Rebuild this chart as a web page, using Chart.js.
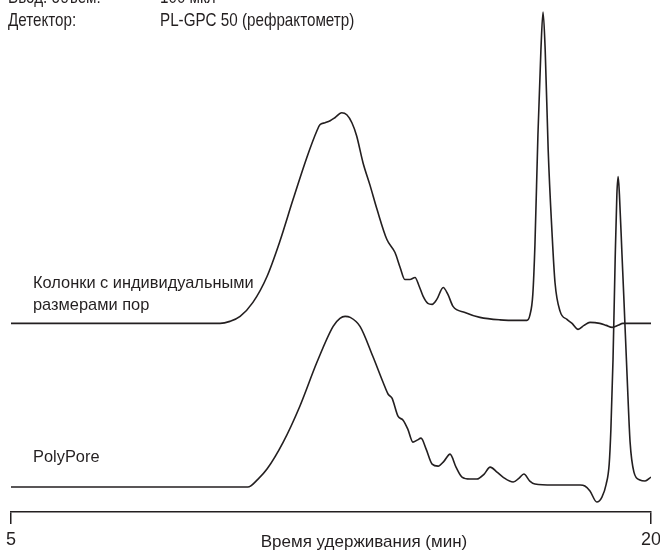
<!DOCTYPE html>
<html lang="ru">
<head>
<meta charset="utf-8">
<title>Время удерживания (мин)</title>
<script src="https://cdn.jsdelivr.net/npm/chart.js@4/dist/chart.umd.min.js"></script>
<style>
  html, body { margin: 0; padding: 0; background: #ffffff; }
  #wrap { position: relative; width: 660px; height: 550px; }
</style>
</head>
<body>
<div id="wrap"><canvas id="chart" width="660" height="550"></canvas></div>
<script>
// Retention time axis (min)
const xRange = [5, 20];
const xTickValues = [5, 20];
const xTitle = 'Время удерживания (мин)';

// Run conditions shown above the traces
const conditionNames = ['Ввод. объем:', 'Детектор:'];
const conditionValues = ['100 мкл', 'PL-GPC 50 (рефрактометр)'];

// Trace 1: columns with individual pore sizes (time, min / RI response above its own baseline)
const seriesNameA = ['Колонки с индивидуальными', 'размерами пор'];
const timeA = [5.00, 7.09, 9.90, 10.13, 10.37, 10.67, 11.00, 11.30, 11.61, 11.94, 12.17, 12.24,
  12.36, 12.48, 12.59, 12.75, 12.87, 12.99, 13.10, 13.25, 13.41, 13.58, 13.81, 14.00, 14.12,
  14.23, 14.35, 14.47, 14.56, 14.66, 14.77, 14.87, 14.98, 15.13, 15.24, 15.36, 15.64, 15.99,
  16.46, 16.93, 17.09, 17.16, 17.23, 17.28, 17.35, 17.42, 17.47, 17.52, 17.59, 17.68, 17.75,
  17.87, 18.03, 18.15, 18.29, 18.43, 18.57, 18.80, 18.95, 19.09, 19.23, 19.34, 19.63, 20.00];
const respA = [0, 0, 0, 2, 7, 21, 47, 82, 124, 167, 193, 199,
  201, 203, 206, 211, 209, 201, 188, 161, 139, 114, 84, 71, 56,
  44, 44, 46, 38, 27, 20, 19, 24, 36, 29, 17, 11, 6,
  3.5, 3, 3, 8, 29, 79, 189, 274, 312, 274, 174, 91, 41,
  12, 4, 0, -6, -2, 1, 0, -2, -4, -2, 0, 0, 0];

// Trace 2: PolyPore column
const seriesNameB = ['PolyPore'];
const timeB = [5.00, 7.09, 10.55, 10.79, 11.00, 11.38, 11.77, 12.17, 12.55, 12.71, 12.83, 12.95,
  13.18, 13.48, 13.72, 13.84, 13.93, 14.07, 14.19, 14.30, 14.42, 14.52, 14.61, 14.73, 14.87,
  15.01, 15.15, 15.29, 15.43, 15.57, 15.76, 15.92, 16.09, 16.23, 16.39, 16.53, 16.77, 16.91,
  17.02, 17.16, 17.28, 17.70, 18.34, 18.45, 18.57, 18.73, 18.85, 18.95, 19.02, 19.06, 19.11,
  19.16, 19.20, 19.23, 19.26, 19.32, 19.37, 19.44, 19.51, 19.60, 19.74, 19.86, 20.00];
const respB = [0, 0, 0, 8, 18, 45, 81, 125, 161, 169, 171, 170,
  161, 131, 105, 93, 89, 71, 67, 58, 45, 47, 49, 38, 23,
  21, 26, 33, 20, 10, 8, 8, 13, 20, 15, 10, 5, 9,
  13, 6, 3, 2, 2, 1, -4, -15, -10, 3, 23, 58, 128,
  228, 293, 311, 293, 233, 183, 111, 45, 15, 7, 6, 10];

// Vertical offsets that stack the two chromatograms
const offsetA = 189;
const offsetB = 25;

const ink = '#231f20';
const textFont = "'Liberation Sans', Arial, sans-serif";

function toPoints(times, resp, offset) {
  return times.map((t, i) => ({ x: t, y: resp[i] + offset }));
}

// Draws text squeezed horizontally to imitate a narrow typeface
function narrowText(ctx, text, x, y, squeeze) {
  ctx.save();
  ctx.translate(x, y);
  ctx.scale(squeeze, 1);
  ctx.fillText(text, 0, 0);
  ctx.restore();
}

// Free text: run conditions, trace names and the axis title
const textPlugin = {
  id: 'chromText',
  afterDraw(chart) {
    const ctx = chart.ctx;
    ctx.save();
    ctx.fillStyle = ink;
    ctx.textBaseline = 'alphabetic';
    ctx.textAlign = 'left';

    ctx.font = '19px ' + textFont;
    conditionNames.forEach((name, i) => {
      const y = 3 + i * 23;
      narrowText(ctx, name, 8, y, 0.8);
      narrowText(ctx, conditionValues[i], 160, y, 0.8);
    });

    ctx.font = '16.4px ' + textFont;
    seriesNameA.forEach((line, i) => ctx.fillText(line, 33, 288 + i * 22));
    seriesNameB.forEach((line, i) => ctx.fillText(line, 33, 462 + i * 22));

    ctx.font = '17px ' + textFont;
    ctx.textAlign = 'center';
    ctx.fillText(xTitle, 364, 547);
    ctx.restore();
  }
};

new Chart(document.getElementById('chart'), {
  type: 'line',
  data: {
    datasets: [
      { label: seriesNameA.join(' '), data: toPoints(timeA, respA, offsetA) },
      { label: seriesNameB.join(' '), data: toPoints(timeB, respB, offsetB) }
    ]
  },
  options: {
    responsive: false,
    animation: false,
    events: [],
    layout: { padding: { left: 11, right: 9, top: 0, bottom: 0 } },
    elements: {
      point: { radius: 0 },
      line: { borderColor: ink, borderWidth: 1.6, cubicInterpolationMode: 'monotone', fill: false }
    },
    scales: {
      x: {
        type: 'linear',
        position: 'bottom',
        min: xRange[0],
        max: xRange[1],
        afterBuildTicks(scale) { scale.ticks = xTickValues.map(v => ({ value: v })); },
        afterFit(scale) {
          scale.height = 38;
          scale.paddingLeft = 0;
          scale.paddingRight = 0;
        },
        grid: { drawOnChartArea: false, drawTicks: true, tickLength: 12, color: ink, lineWidth: 1.5 },
        border: { display: true, color: ink, width: 1.5 },
        ticks: {
          color: ink,
          padding: 6,
          maxRotation: 0,
          autoSkip: false,
          font: { family: textFont, size: 18, lineHeight: 1.1 }
        }
      },
      y: { display: false, min: 0, max: 513 }
    },
    plugins: { legend: { display: false }, tooltip: { enabled: false } }
  },
  plugins: [textPlugin]
});
</script>
</body>
</html>
